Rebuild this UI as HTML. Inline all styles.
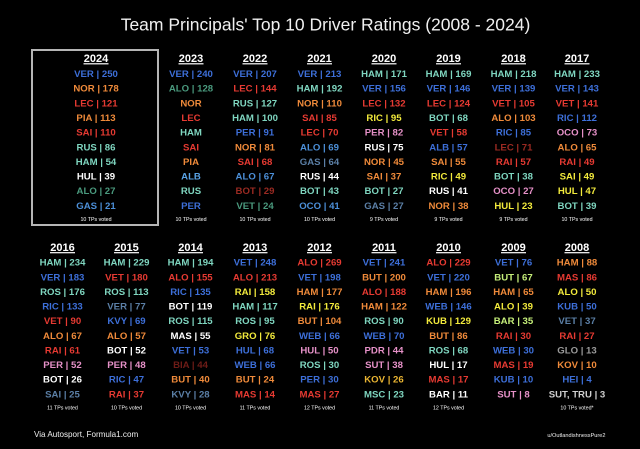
<!DOCTYPE html>
<html>
<head>
<meta charset="utf-8">
<style>
html,body{margin:0;padding:0;background:#000;}
svg{display:block;}
text{font-family:"Liberation Sans",Arial,sans-serif;}
.e{font-size:9.6px;font-weight:bold;text-anchor:middle;}
.y{font-size:11px;font-weight:bold;text-anchor:middle;fill:#fff;}
.v{font-size:5.3px;text-anchor:middle;fill:#fff;}
.B{fill:#3d6fd9}.O{fill:#ef8a3a}.R{fill:#e63a32}.T{fill:#7fd6c0}.W{fill:#ffffff}
.G{fill:#4a9a7e}.L{fill:#4c8fd8}.A{fill:#5aa3e6}.S{fill:#5b7fa6}.Y{fill:#f2ea3c}
.P{fill:#e691c8}.D{fill:#9a2a22}.X{fill:#6e1c17}.M{fill:#c6ef7a}.K{fill:#eab532}
.g{fill:#9a9a9a}.l{fill:#cfcfcf}
</style>
</head>
<body>
<svg width="640" height="449" viewBox="0 0 640 449" xmlns="http://www.w3.org/2000/svg">
<rect width="640" height="449" fill="#000"/>
<text x="325.5" y="30.5" font-size="17.5" fill="#f0f0f0" text-anchor="middle">Team Principals' Top 10 Driver Ratings (2008 - 2024)</text>
<rect x="32" y="50" width="126" height="175" fill="none" stroke="#b5b5b5" stroke-width="2"/>

<!-- TOP ROW -->
<g>
<text class="y" x="96" y="62.2">2024</text><rect x="83.5" y="63.2" width="25" height="1.2" fill="#fff"/>
<text class="e B" x="96" y="77.1">VER | 250</text>
<text class="e O" x="96" y="91.7">NOR | 178</text>
<text class="e R" x="96" y="106.4">LEC | 121</text>
<text class="e O" x="96" y="121">PIA | 113</text>
<text class="e R" x="96" y="135.6">SAI | 110</text>
<text class="e T" x="96" y="150.3">RUS | 86</text>
<text class="e T" x="96" y="164.9">HAM | 54</text>
<text class="e W" x="96" y="179.5">HUL | 39</text>
<text class="e G" x="96" y="194.1">ALO | 27</text>
<text class="e L" x="96" y="208.8">GAS | 21</text>
<text class="v" x="96" y="220.8">10 TPs voted</text>
</g>
<g>
<text class="y" x="191" y="62.2">2023</text><rect x="178.5" y="63.2" width="25" height="1.2" fill="#fff"/>
<text class="e B" x="191" y="77.1">VER | 240</text>
<text class="e G" x="191" y="91.7">ALO | 128</text>
<text class="e O" x="191" y="106.4">NOR</text>
<text class="e R" x="191" y="121">LEC</text>
<text class="e T" x="191" y="135.6">HAM</text>
<text class="e R" x="191" y="150.3">SAI</text>
<text class="e O" x="191" y="164.9">PIA</text>
<text class="e A" x="191" y="179.5">ALB</text>
<text class="e T" x="191" y="194.1">RUS</text>
<text class="e B" x="191" y="208.8">PER</text>
<text class="v" x="191" y="220.8">10 TPs voted</text>
</g>
<g>
<text class="y" x="255" y="62.2">2022</text><rect x="242.5" y="63.2" width="25" height="1.2" fill="#fff"/>
<text class="e B" x="255" y="77.1">VER | 207</text>
<text class="e R" x="255" y="91.7">LEC | 144</text>
<text class="e T" x="255" y="106.4">RUS | 127</text>
<text class="e T" x="255" y="121">HAM | 100</text>
<text class="e B" x="255" y="135.6">PER | 91</text>
<text class="e O" x="255" y="150.3">NOR | 81</text>
<text class="e R" x="255" y="164.9">SAI | 68</text>
<text class="e L" x="255" y="179.5">ALO | 67</text>
<text class="e D" x="255" y="194.1">BOT | 29</text>
<text class="e G" x="255" y="208.8">VET | 24</text>
<text class="v" x="255" y="220.8">10 TPs voted</text>
</g>
<g>
<text class="y" x="319.5" y="62.2">2021</text><rect x="307" y="63.2" width="25" height="1.2" fill="#fff"/>
<text class="e B" x="319.5" y="77.1">VER | 213</text>
<text class="e T" x="319.5" y="91.7">HAM | 192</text>
<text class="e O" x="319.5" y="106.4">NOR | 110</text>
<text class="e R" x="319.5" y="121">SAI | 85</text>
<text class="e R" x="319.5" y="135.6">LEC | 70</text>
<text class="e L" x="319.5" y="150.3">ALO | 69</text>
<text class="e S" x="319.5" y="164.9">GAS | 64</text>
<text class="e W" x="319.5" y="179.5">RUS | 44</text>
<text class="e T" x="319.5" y="194.1">BOT | 43</text>
<text class="e L" x="319.5" y="208.8">OCO | 41</text>
<text class="v" x="319.5" y="220.8">10 TPs voted</text>
</g>
<g>
<text class="y" x="384" y="62.2">2020</text><rect x="371.5" y="63.2" width="25" height="1.2" fill="#fff"/>
<text class="e T" x="384" y="77.1">HAM | 171</text>
<text class="e B" x="384" y="91.7">VER | 156</text>
<text class="e R" x="384" y="106.4">LEC | 132</text>
<text class="e Y" x="384" y="121">RIC | 95</text>
<text class="e P" x="384" y="135.6">PER | 82</text>
<text class="e W" x="384" y="150.3">RUS | 75</text>
<text class="e O" x="384" y="164.9">NOR | 45</text>
<text class="e O" x="384" y="179.5">SAI | 37</text>
<text class="e T" x="384" y="194.1">BOT | 27</text>
<text class="e S" x="384" y="208.8">GAS | 27</text>
<text class="v" x="384" y="220.8">9 TPs voted</text>
</g>
<g>
<text class="y" x="448.5" y="62.2">2019</text><rect x="436" y="63.2" width="25" height="1.2" fill="#fff"/>
<text class="e T" x="448.5" y="77.1">HAM | 169</text>
<text class="e B" x="448.5" y="91.7">VER | 146</text>
<text class="e R" x="448.5" y="106.4">LEC | 124</text>
<text class="e T" x="448.5" y="121">BOT | 68</text>
<text class="e R" x="448.5" y="135.6">VET | 58</text>
<text class="e B" x="448.5" y="150.3">ALB | 57</text>
<text class="e O" x="448.5" y="164.9">SAI | 55</text>
<text class="e Y" x="448.5" y="179.5">RIC | 49</text>
<text class="e W" x="448.5" y="194.1">RUS | 41</text>
<text class="e O" x="448.5" y="208.8">NOR | 38</text>
<text class="v" x="448.5" y="220.8">9 TPs voted</text>
</g>
<g>
<text class="y" x="513.5" y="62.2">2018</text><rect x="501" y="63.2" width="25" height="1.2" fill="#fff"/>
<text class="e T" x="513.5" y="77.1">HAM | 218</text>
<text class="e B" x="513.5" y="91.7">VER | 139</text>
<text class="e R" x="513.5" y="106.4">VET | 105</text>
<text class="e O" x="513.5" y="121">ALO | 103</text>
<text class="e B" x="513.5" y="135.6">RIC | 85</text>
<text class="e D" x="513.5" y="150.3">LEC | 71</text>
<text class="e R" x="513.5" y="164.9">RAI | 57</text>
<text class="e T" x="513.5" y="179.5">BOT | 38</text>
<text class="e P" x="513.5" y="194.1">OCO | 27</text>
<text class="e Y" x="513.5" y="208.8">HUL | 23</text>
<text class="v" x="513.5" y="220.8">9 TPs voted</text>
</g>
<g>
<text class="y" x="577" y="62.2">2017</text><rect x="564.5" y="63.2" width="25" height="1.2" fill="#fff"/>
<text class="e T" x="577" y="77.1">HAM | 233</text>
<text class="e B" x="577" y="91.7">VER | 143</text>
<text class="e R" x="577" y="106.4">VET | 141</text>
<text class="e B" x="577" y="121">RIC | 112</text>
<text class="e P" x="577" y="135.6">OCO | 73</text>
<text class="e O" x="577" y="150.3">ALO | 65</text>
<text class="e R" x="577" y="164.9">RAI | 49</text>
<text class="e Y" x="577" y="179.5">SAI | 49</text>
<text class="e Y" x="577" y="194.1">HUL | 47</text>
<text class="e T" x="577" y="208.8">BOT | 39</text>
<text class="v" x="577" y="220.8">10 TPs voted</text>
</g>

<!-- BOTTOM ROW -->
<g>
<text class="y" x="62.5" y="251.1">2016</text><rect x="50" y="252.1" width="25" height="1.2" fill="#fff"/>
<text class="e T" x="62.5" y="265.7">HAM | 234</text>
<text class="e B" x="62.5" y="280.3">VER | 183</text>
<text class="e T" x="62.5" y="295">ROS | 176</text>
<text class="e B" x="62.5" y="309.6">RIC | 133</text>
<text class="e R" x="62.5" y="324.2">VET | 90</text>
<text class="e O" x="62.5" y="338.9">ALO | 67</text>
<text class="e R" x="62.5" y="353.5">RAI | 61</text>
<text class="e P" x="62.5" y="368.1">PER | 52</text>
<text class="e W" x="62.5" y="382.7">BOT | 26</text>
<text class="e S" x="62.5" y="397.4">SAI | 25</text>
<text class="v" x="62.5" y="409.4">11 TPs voted</text>
</g>
<g>
<text class="y" x="126.5" y="251.1">2015</text><rect x="114" y="252.1" width="25" height="1.2" fill="#fff"/>
<text class="e T" x="126.5" y="265.7">HAM | 229</text>
<text class="e R" x="126.5" y="280.3">VET | 180</text>
<text class="e T" x="126.5" y="295">ROS | 113</text>
<text class="e S" x="126.5" y="309.6">VER | 77</text>
<text class="e B" x="126.5" y="324.2">KVY | 69</text>
<text class="e O" x="126.5" y="338.9">ALO | 57</text>
<text class="e W" x="126.5" y="353.5">BOT | 52</text>
<text class="e P" x="126.5" y="368.1">PER | 48</text>
<text class="e B" x="126.5" y="382.7">RIC | 47</text>
<text class="e R" x="126.5" y="397.4">RAI | 37</text>
<text class="v" x="126.5" y="409.4">10 TPs voted</text>
</g>
<g>
<text class="y" x="190.5" y="251.1">2014</text><rect x="178" y="252.1" width="25" height="1.2" fill="#fff"/>
<text class="e T" x="190.5" y="265.7">HAM | 194</text>
<text class="e R" x="190.5" y="280.3">ALO | 155</text>
<text class="e B" x="190.5" y="295">RIC | 135</text>
<text class="e W" x="190.5" y="309.6">BOT | 119</text>
<text class="e T" x="190.5" y="324.2">ROS | 115</text>
<text class="e W" x="190.5" y="338.9">MAS | 55</text>
<text class="e B" x="190.5" y="353.5">VET | 53</text>
<text class="e X" x="190.5" y="368.1">BIA | 44</text>
<text class="e O" x="190.5" y="382.7">BUT | 40</text>
<text class="e S" x="190.5" y="397.4">KVY | 28</text>
<text class="v" x="190.5" y="409.4">10 TPs voted</text>
</g>
<g>
<text class="y" x="255" y="251.1">2013</text><rect x="242.5" y="252.1" width="25" height="1.2" fill="#fff"/>
<text class="e B" x="255" y="265.7">VET | 248</text>
<text class="e R" x="255" y="280.3">ALO | 213</text>
<text class="e Y" x="255" y="295">RAI | 158</text>
<text class="e T" x="255" y="309.6">HAM | 117</text>
<text class="e T" x="255" y="324.2">ROS | 95</text>
<text class="e Y" x="255" y="338.9">GRO | 76</text>
<text class="e B" x="255" y="353.5">HUL | 68</text>
<text class="e B" x="255" y="368.1">WEB | 66</text>
<text class="e O" x="255" y="382.7">BUT | 24</text>
<text class="e R" x="255" y="397.4">MAS | 14</text>
<text class="v" x="255" y="409.4">11 TPs voted</text>
</g>
<g>
<text class="y" x="319.5" y="251.1">2012</text><rect x="307" y="252.1" width="25" height="1.2" fill="#fff"/>
<text class="e R" x="319.5" y="265.7">ALO | 269</text>
<text class="e B" x="319.5" y="280.3">VET | 198</text>
<text class="e O" x="319.5" y="295">HAM | 177</text>
<text class="e Y" x="319.5" y="309.6">RAI | 176</text>
<text class="e O" x="319.5" y="324.2">BUT | 104</text>
<text class="e B" x="319.5" y="338.9">WEB | 66</text>
<text class="e P" x="319.5" y="353.5">HUL | 50</text>
<text class="e T" x="319.5" y="368.1">ROS | 30</text>
<text class="e B" x="319.5" y="382.7">PER | 30</text>
<text class="e R" x="319.5" y="397.4">MAS | 27</text>
<text class="v" x="319.5" y="409.4">12 TPs voted</text>
</g>
<g>
<text class="y" x="384" y="251.1">2011</text><rect x="371.5" y="252.1" width="25" height="1.2" fill="#fff"/>
<text class="e B" x="384" y="265.7">VET | 241</text>
<text class="e O" x="384" y="280.3">BUT | 200</text>
<text class="e R" x="384" y="295">ALO | 188</text>
<text class="e O" x="384" y="309.6">HAM | 122</text>
<text class="e T" x="384" y="324.2">ROS | 90</text>
<text class="e B" x="384" y="338.9">WEB | 70</text>
<text class="e P" x="384" y="353.5">PDR | 44</text>
<text class="e P" x="384" y="368.1">SUT | 38</text>
<text class="e K" x="384" y="382.7">KOV | 26</text>
<text class="e T" x="384" y="397.4">MSC | 23</text>
<text class="v" x="384" y="409.4">11 TPs voted</text>
</g>
<g>
<text class="y" x="448.5" y="251.1">2010</text><rect x="436" y="252.1" width="25" height="1.2" fill="#fff"/>
<text class="e R" x="448.5" y="265.7">ALO | 229</text>
<text class="e B" x="448.5" y="280.3">VET | 220</text>
<text class="e O" x="448.5" y="295">HAM | 196</text>
<text class="e B" x="448.5" y="309.6">WEB | 146</text>
<text class="e Y" x="448.5" y="324.2">KUB | 129</text>
<text class="e O" x="448.5" y="338.9">BUT | 86</text>
<text class="e T" x="448.5" y="353.5">ROS | 68</text>
<text class="e W" x="448.5" y="368.1">HUL | 17</text>
<text class="e R" x="448.5" y="382.7">MAS | 17</text>
<text class="e W" x="448.5" y="397.4">BAR | 11</text>
<text class="v" x="448.5" y="409.4">12 TPs voted</text>
</g>
<g>
<text class="y" x="513.5" y="251.1">2009</text><rect x="501" y="252.1" width="25" height="1.2" fill="#fff"/>
<text class="e B" x="513.5" y="265.7">VET | 76</text>
<text class="e M" x="513.5" y="280.3">BUT | 67</text>
<text class="e O" x="513.5" y="295">HAM | 65</text>
<text class="e Y" x="513.5" y="309.6">ALO | 39</text>
<text class="e M" x="513.5" y="324.2">BAR | 35</text>
<text class="e R" x="513.5" y="338.9">RAI | 30</text>
<text class="e B" x="513.5" y="353.5">WEB | 30</text>
<text class="e R" x="513.5" y="368.1">MAS | 19</text>
<text class="e B" x="513.5" y="382.7">KUB | 10</text>
<text class="e P" x="513.5" y="397.4">SUT | 8</text>
</g>
<g>
<text class="y" x="577" y="251.1">2008</text><rect x="564.5" y="252.1" width="25" height="1.2" fill="#fff"/>
<text class="e O" x="577" y="265.7">HAM | 88</text>
<text class="e R" x="577" y="280.3">MAS | 86</text>
<text class="e Y" x="577" y="295">ALO | 50</text>
<text class="e B" x="577" y="309.6">KUB | 50</text>
<text class="e S" x="577" y="324.2">VET | 37</text>
<text class="e R" x="577" y="338.9">RAI | 27</text>
<text class="e g" x="577" y="353.5">GLO | 13</text>
<text class="e O" x="577" y="368.1">KOV | 10</text>
<text class="e B" x="577" y="382.7">HEI | 4</text>
<text class="e l" x="577" y="397.4">SUT, TRU | 3</text>
<text class="v" x="577" y="409.4">10 TPs voted*</text>
</g>

<text x="34" y="437" font-size="8.1" fill="#f0f0f0">Via Autosport, Formula1.com</text>
<text x="605.5" y="436.8" font-size="5.6" fill="#f0f0f0" text-anchor="end">u/OutlandishnessPure2</text>
</svg>
</body>
</html>
